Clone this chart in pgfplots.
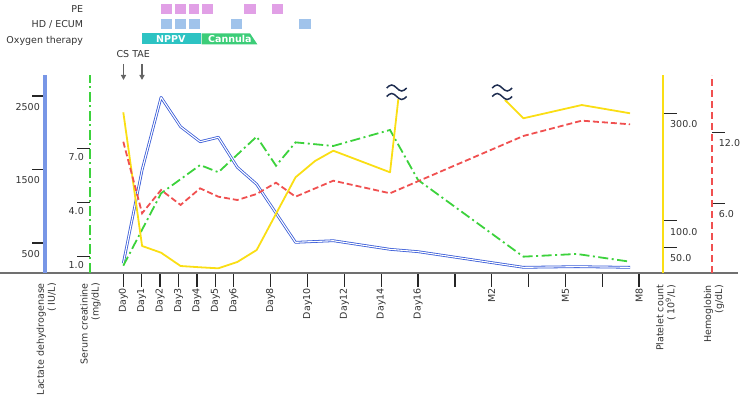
\documentclass[border=0pt]{standalone}
\usepackage{fontspec}
\setmainfont{DejaVu Sans}
\usepackage{pgfplots}
\pgfplotsset{compat=1.18}
\usetikzlibrary{arrows.meta}
\definecolor{ldh}{RGB}{55,90,215}
\definecolor{ldhax}{RGB}{120,150,230}
\definecolor{cre}{RGB}{60,210,60}
\definecolor{plt}{RGB}{250,222,20}
\definecolor{hgb}{RGB}{240,80,80}
\definecolor{pe}{RGB}{225,160,230}
\definecolor{hd}{RGB}{160,195,235}
\definecolor{nppv}{RGB}{45,195,195}
\definecolor{cann}{RGB}{60,205,120}
\definecolor{brk}{RGB}{30,45,80}
\definecolor{txt}{RGB}{50,50,50}
\definecolor{axg}{RGB}{112,112,112}
\definecolor{arr}{RGB}{100,100,100}
\newcommand{\fs}{\fontsize{9.5}{11}\selectfont}
\pgfplotsset{
  base/.style={scale only axis, width=738pt, height=198pt, xmin=-6.694, xmax=33.371,
    clip=false, at={(0pt,130pt)}, anchor=south west},
  vax/.style={scale only axis, width=1pt, height=198pt, xmin=0, xmax=1,
    axis x line=none, clip=false, tick align=outside, major tick length=13pt,
    tick style={line width=1.3pt, color=black!85},
    yticklabel style={font=\fs, color=txt, inner sep=0pt},
    /pgf/number format/assume math mode=true},
}
\begin{document}
\begin{tikzpicture}[x=1pt,y=1pt]
\path[use as bounding box] (0,0) rectangle (750,403);

% main axis: x axis and LDH
\begin{axis}[base,
  axis x line*=bottom, axis y line=none,
  ymin=91.85, ymax=2785.6,
  x axis line style={line width=2pt, color=axg},
  xtick={0,1,2,3,4,5,6,8,10,12,14,16,18,20,22,24,26,28},
  xticklabels={Day0,Day1,Day2,Day3,Day4,Day5,Day6,Day8,Day10,Day12,Day14,Day16,,M2,,M5,,M8},
  tick align=outside, major tick length=14pt,
  tick style={line width=1.3pt, color=black!85},
  xticklabel style={rotate=90, anchor=east, font=\fs, color=txt, inner sep=1pt},
  /pgf/number format/assume math mode=true,
]
\addplot[draw=ldh, line width=0.8pt, double=white, double distance=1.1pt, line join=round] coordinates {
(0,224) (1.02,1493) (2.05,2482) (3.11,2082) (4.17,1878) (5.16,1938) (6.19,1530) (7.24,1299)
(9.35,509) (11.40,531) (14.48,414) (16.00,382) (21.72,169) (24.62,178) (27.51,169)};
\end{axis}

% creatinine
\begin{axis}[base, hide axis, ymin=0.083, ymax=11.083]
\addplot[cre, line width=1.8pt, dash pattern=on 10pt off 3.5pt on 2pt off 3.5pt] coordinates {
(0,0.49) (2.05,4.51) (4.17,6.08) (5.16,5.68) (7.24,7.66) (8.29,6.04) (9.35,7.34) (11.40,7.14)
(14.48,8.03) (16.00,5.25) (21.72,0.99) (24.62,1.14) (27.51,0.71)};
\end{axis}

% platelet
\begin{axis}[base, hide axis, ymin=2.79, ymax=371.5]
\addplot[plt, line width=1.8pt, line join=round] coordinates {
(0,302.0) (1.02,53.1) (2.05,40.6) (3.11,15.8) (4.17,13.4) (5.16,11.5) (6.19,23.3) (7.24,45.6)
(9.35,181.0) (10.41,211.4) (11.40,230.5) (14.48,190.3) (14.93,326.3)};
\addplot[plt, line width=1.8pt, line join=round] coordinates {
(20.72,325.0) (21.72,290.9) (24.89,315.6) (27.51,300.2)};
\end{axis}

% hemoglobin
\begin{axis}[base, hide axis, ymin=0.078, ymax=16.90]
\addplot[hgb, line width=1.8pt, dash pattern=on 6pt off 3pt] coordinates {
(0,11.23) (1.02,5.15) (2.05,7.13) (3.11,5.86) (4.17,7.27) (5.16,6.56) (6.19,6.28) (7.24,6.79)
(8.29,7.75) (9.35,6.56) (11.40,7.92) (14.48,6.85) (21.72,11.72) (24.89,13.02) (27.51,12.71)};
\end{axis}

% vertical axes
\begin{axis}[vax, at={(45pt,130pt)}, anchor=south west, axis y line*=left,
  ymin=91.85, ymax=2785.6, ytick={500,1500,2500}, yticklabels={500,1500,2500},
  y axis line style={line width=3pt, draw=ldhax},
  yticklabel style={anchor=north east, xshift=8pt, yshift=-7pt}]
\end{axis}
\begin{axis}[vax, at={(90pt,130pt)}, anchor=south west, axis y line*=left,
  ymin=0.083, ymax=11.083, ytick={1,4,7}, yticklabels={1.0,4.0,7.0},
  y axis line style={line width=1.5pt, draw=cre, dash pattern=on 10pt off 3.5pt on 2pt off 3.5pt},
  yticklabel style={anchor=north east, xshift=7pt, yshift=-5pt}]
\end{axis}
\begin{axis}[vax, at={(663pt,130pt)}, anchor=south east, axis y line*=right,
  ymin=2.79, ymax=371.5, ytick={50,100,300}, yticklabels={50.0,100.0,300.0},
  major tick length=14pt,
  y axis line style={line width=2pt, draw=plt},
  yticklabel style={anchor=north west, xshift=-7pt, yshift=-7pt}]
\end{axis}
\begin{axis}[vax, at={(711.7pt,130pt)}, anchor=south east, axis y line*=right,
  ymin=0.078, ymax=16.90, ytick={6,12}, yticklabels={6.0,12.0},
  y axis line style={line width=1.8pt, draw=hgb, dash pattern=on 7pt off 4pt},
  yticklabel style={anchor=north west, xshift=-6pt, yshift=-7pt}]
\end{axis}

% bottom axis titles
\node[rotate=90, anchor=east, align=right, font=\fs, color=txt, inner sep=0pt] at (46.5,120) {Lactate dehydrogenase\\( IU/L)};
\node[rotate=90, anchor=east, align=right, font=\fs, color=txt, inner sep=0pt] at (90.5,120) {Serum creatinine\\(mg/dL)};
\node[rotate=90, anchor=east, align=right, font=\fs, color=txt, inner sep=0pt] at (666,118) {Platelet count\\( 10\textsuperscript{9}/L)};
\node[rotate=90, anchor=east, align=right, font=\fs, color=txt, inner sep=0pt] at (714,118) {Hemoglobin\\(g/dL)};

% top annotations
\node[anchor=base east, font=\fs, color=txt, inner sep=0pt] at (83.3,390.3) {PE};
\node[anchor=base east, font=\fs, color=txt, inner sep=0pt] at (83.3,375.7) {HD / ECUM};
\node[anchor=base east, font=\fs, color=txt, inner sep=0pt] at (83.3,359.5) {Oxygen therapy};
\foreach \a/\b in {161/171.7, 175/185.7, 188.7/199.3, 202.3/213.3, 244.3/255.7, 272.3/283.3}
  \fill[pe] (\a,389) rectangle (\b,399);
\foreach \a/\b in {161/171.7, 175/185.7, 189/200, 230.7/241.7, 299.3/310.7}
  \fill[hd] (\a,373.7) rectangle (\b,383.7);
\fill[nppv] (141.7,358.7) rectangle (200.7,369.7);
\fill[cann] (201.7,358.7) -- (201.7,369.7) -- (250,369.7) -- (257.3,358.7) -- cycle;
\node[font=\fontsize{9.5}{11}\selectfont\bfseries, white, inner sep=0pt] at (170.8,364.2) {NPPV};
\node[font=\fontsize{9.5}{11}\selectfont\bfseries, white, inner sep=0pt] at (229.8,364.2) {Cannula};

\node[anchor=base, font=\fs, color=txt, inner sep=0pt] at (133.2,345.7) {CS TAE};
\draw[arr, line width=1.5pt, -{Triangle[width=5pt,length=5pt]}] (123.5,339) -- (123.5,323);
\draw[arr, line width=1.5pt, -{Triangle[width=5pt,length=5pt]}] (142,339) -- (142,323);

% axis break marks
\foreach \cx in {396.7, 502.2} {
  \foreach \cy in {315, 306.5} {
    \draw[brk, line width=1.5pt] (\cx-10,\cy) sin (\cx-5,\cy+3) cos (\cx,\cy) sin (\cx+5,\cy-3) cos (\cx+10,\cy);
  }
}
\end{tikzpicture}
\end{document}
